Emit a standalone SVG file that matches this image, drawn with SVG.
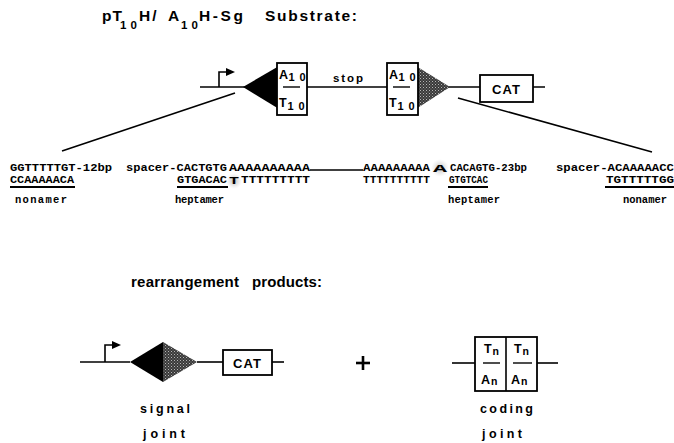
<svg xmlns="http://www.w3.org/2000/svg" width="674" height="443" viewBox="0 0 674 443">
  <defs>
    <!-- dark stipple used for the shaded signal half -->
    <pattern id="stipple" width="3" height="3" patternUnits="userSpaceOnUse">
      <rect width="3" height="3" fill="#3a3a3a"/>
      <rect x="0" y="0" width="1" height="1" fill="#b5b5b5"/>
      <rect x="1.5" y="1.5" width="1" height="1" fill="#8a8a8a"/>
    </pattern>
    <!-- faint speckled halo around the inserted nucleotides -->
    <radialGradient id="halo">
      <stop offset="0" stop-color="#9a9a9a" stop-opacity="0.7"/>
      <stop offset="1" stop-color="#cfcfcf" stop-opacity="0"/>
    </radialGradient>
    <marker id="flag" markerWidth="10" markerHeight="10" refX="1" refY="5" orient="auto" markerUnits="userSpaceOnUse">
      <path d="M1,1 L10,5 L1,9 Z" fill="#000"/>
    </marker>
  </defs>
  <style>
    .ln{stroke:#000;stroke-width:1.6;fill:none}
    .box{fill:#fff;stroke:#000;stroke-width:1.8}
    .lbl{font-family:"Liberation Sans",Arial,sans-serif;font-weight:bold;fill:#000}
    .seq{font-family:"Liberation Mono","Courier New",monospace;font-weight:bold;font-size:11.5px;fill:#000}
    .tag{font-family:"Liberation Mono","Courier New",monospace;font-weight:bold;font-size:10.5px;fill:#000}
    .ul{stroke:#000;stroke-width:1.8}
  </style>

  <!-- heading -->
  <g id="title" class="lbl" font-size="15.5">
    <text x="102" y="21" textLength="20" lengthAdjust="spacing">pT</text>
    <text x="120" y="29" font-size="11.5" textLength="17" lengthAdjust="spacing">10</text>
    <text x="139" y="21" letter-spacing="2">H/</text>
    <text x="168" y="21">A</text>
    <text x="181" y="29" font-size="11.5" textLength="17" lengthAdjust="spacing">10</text>
    <text x="199" y="21" textLength="44" lengthAdjust="spacing">H-Sg</text>
    <text x="265" y="21" textLength="92" lengthAdjust="spacing">Substrate:</text>
  </g>

  <!-- substrate construct -->
  <g id="substrate">
    <line class="ln" x1="200" y1="87" x2="545" y2="87"/>
    <path class="ln" d="M219,87 V72 H226" marker-end="url(#flag)"/>
  </g>
  <g id="signal-left">
    <polygon points="243,87 279,66 279,109" fill="#000"/>
  </g>
  <g id="coding-left">
    <rect class="box" x="277" y="63" width="30" height="52"/>
    <text class="lbl" x="279" y="79" font-size="12.5">A</text>
    <text class="lbl" x="288.5" y="81" font-size="11" textLength="17" lengthAdjust="spacing">10</text>
    <line x1="283" y1="87" x2="300" y2="87" stroke="#000" stroke-width="1.4"/>
    <text class="lbl" x="279" y="107" font-size="12.5">T</text>
    <text class="lbl" x="287.5" y="110" font-size="11" textLength="17" lengthAdjust="spacing">10</text>
  </g>
  <g id="stop">
    <text class="lbl" x="333" y="82" font-size="11.5" textLength="30" lengthAdjust="spacing">stop</text>
  </g>
  <g id="signal-right">
    <polygon points="416,66 450,87 416,109" fill="url(#stipple)"/>
  </g>
  <g id="coding-right">
    <rect class="box" x="387" y="63" width="31" height="52"/>
    <text class="lbl" x="389" y="79" font-size="12.5">A</text>
    <text class="lbl" x="398.5" y="81" font-size="11" textLength="17" lengthAdjust="spacing">10</text>
    <line x1="393" y1="87" x2="410" y2="87" stroke="#000" stroke-width="1.4"/>
    <text class="lbl" x="389" y="107" font-size="12.5">T</text>
    <text class="lbl" x="397.5" y="110" font-size="11" textLength="17" lengthAdjust="spacing">10</text>
  </g>
  <g id="cat-top">
    <rect class="box" x="480" y="75" width="53" height="27"/>
    <text class="lbl" x="506.5" y="93.5" font-size="13" text-anchor="middle" letter-spacing="1">CAT</text>
  </g>

  <!-- expansion lines to the sequence detail -->
  <g id="connectors">
    <line class="ln" x1="235" y1="93" x2="62" y2="151" stroke-width="1.8"/>
    <line class="ln" x1="458" y1="98" x2="652" y2="152" stroke-width="1.8"/>
  </g>

  <!-- sequence detail -->
  <g id="sequence">
    <circle cx="234" cy="181" r="8" fill="url(#halo)"/>
    <circle cx="440" cy="168" r="9" fill="url(#halo)"/>
    <text class="seq" x="10" y="171" textLength="102" lengthAdjust="spacingAndGlyphs">GGTTTTTGT-12bp</text>
    <text class="seq" x="10" y="183" textLength="64" lengthAdjust="spacingAndGlyphs">CCAAAAACA</text>
    <text class="seq" x="126" y="171" textLength="101" lengthAdjust="spacingAndGlyphs">spacer-CACTGTG</text>
    <text class="seq" x="177" y="183" textLength="50" lengthAdjust="spacingAndGlyphs">GTGACAC</text>
    <text class="seq" x="229" y="171" textLength="81" lengthAdjust="spacingAndGlyphs">AAAAAAAAAA</text>
    <text class="seq" x="229" y="184" font-size="14" textLength="10" lengthAdjust="spacingAndGlyphs">T</text>
    <text class="seq" x="241" y="183" textLength="69" lengthAdjust="spacingAndGlyphs">TTTTTTTTT</text>
    <line x1="310" y1="170" x2="363" y2="170" stroke="#000" stroke-width="1.5"/>
    <text class="seq" x="363" y="171" textLength="67" lengthAdjust="spacingAndGlyphs">AAAAAAAAA</text>
    <text class="seq" x="433" y="172" font-size="15" textLength="14" lengthAdjust="spacingAndGlyphs">A</text>
    <text class="seq" x="363" y="183" textLength="67" lengthAdjust="spacingAndGlyphs">TTTTTTTTTT</text>
    <text class="seq" x="450" y="171" textLength="77" lengthAdjust="spacingAndGlyphs">CACAGTG-23bp</text>
    <text class="seq" x="449" y="183" textLength="39" lengthAdjust="spacingAndGlyphs">GTGTCAC</text>
    <text class="seq" x="556" y="171" textLength="118" lengthAdjust="spacingAndGlyphs">spacer-ACAAAAACC</text>
    <text class="seq" x="606" y="183" textLength="68" lengthAdjust="spacingAndGlyphs">TGTTTTTGG</text>
    <line class="ul" x1="10" y1="187" x2="75" y2="187"/>
    <line class="ul" x1="177" y1="187" x2="228" y2="187"/>
    <line class="ul" x1="448" y1="187" x2="488" y2="187"/>
    <line class="ul" x1="605" y1="187" x2="674" y2="187"/>
    <text class="tag" x="15" y="203" textLength="52" lengthAdjust="spacing">nonamer</text>
    <text class="tag" x="175" y="203" textLength="49" lengthAdjust="spacing">heptamer</text>
    <text class="tag" x="448" y="203" textLength="52" lengthAdjust="spacing">heptamer</text>
    <text class="tag" x="623" y="203" textLength="44" lengthAdjust="spacing">nonamer</text>
  </g>

  <!-- products heading -->
  <g id="products-title" class="lbl" font-size="15">
    <text x="131" y="287" textLength="108" lengthAdjust="spacing">rearrangement</text>
    <text x="252" y="287" textLength="70" lengthAdjust="spacing">products:</text>
  </g>

  <!-- signal joint product -->
  <g id="signal-joint">
    <line class="ln" x1="80" y1="362" x2="130" y2="362"/>
    <path class="ln" d="M105,362 V345 H112" marker-end="url(#flag)"/>
    <polygon points="130,362 163,342 163,382" fill="#000"/>
    <polygon points="163,342 197,362 163,382" fill="url(#stipple)"/>
    <line class="ln" x1="197" y1="362" x2="223" y2="362"/>
    <rect class="box" x="223" y="350" width="49" height="25"/>
    <text class="lbl" x="247.5" y="367.5" font-size="13" text-anchor="middle" letter-spacing="1">CAT</text>
    <line class="ln" x1="272" y1="362" x2="284" y2="362"/>
    <text class="lbl" x="140" y="413" font-size="12.5" textLength="50" lengthAdjust="spacing">signal</text>
    <text class="lbl" x="143" y="438" font-size="12.5" textLength="42" lengthAdjust="spacing">joint</text>
  </g>

  <g id="plus">
    <line x1="356" y1="363" x2="370" y2="363" stroke="#000" stroke-width="2.6"/>
    <line x1="363" y1="356" x2="363" y2="370" stroke="#000" stroke-width="2.6"/>
  </g>

  <!-- coding joint product -->
  <g id="coding-joint">
    <line class="ln" x1="452" y1="363" x2="475" y2="363"/>
    <rect class="box" x="475" y="337" width="62" height="54"/>
    <line x1="506" y1="337" x2="506" y2="391" stroke="#000" stroke-width="1.6"/>
    <line class="ln" x1="537" y1="363" x2="558" y2="363"/>
    <text class="lbl" x="484" y="353" font-size="12.5">T</text>
    <text class="lbl" x="492.5" y="355" font-size="10.5">n</text>
    <text class="lbl" x="514" y="353" font-size="12.5">T</text>
    <text class="lbl" x="522.5" y="355" font-size="10.5">n</text>
    <line x1="483" y1="363" x2="500" y2="363" stroke="#000" stroke-width="1.4"/>
    <line x1="513" y1="363" x2="532" y2="363" stroke="#000" stroke-width="1.4"/>
    <text class="lbl" x="481" y="384" font-size="12.5">A</text>
    <text class="lbl" x="491" y="385" font-size="10.5">n</text>
    <text class="lbl" x="511" y="384" font-size="12.5">A</text>
    <text class="lbl" x="521" y="385" font-size="10.5">n</text>
    <text class="lbl" x="480" y="413" font-size="12.5" textLength="53" lengthAdjust="spacing">coding</text>
    <text class="lbl" x="482" y="438" font-size="12.5" textLength="40" lengthAdjust="spacing">joint</text>
  </g>
</svg>
